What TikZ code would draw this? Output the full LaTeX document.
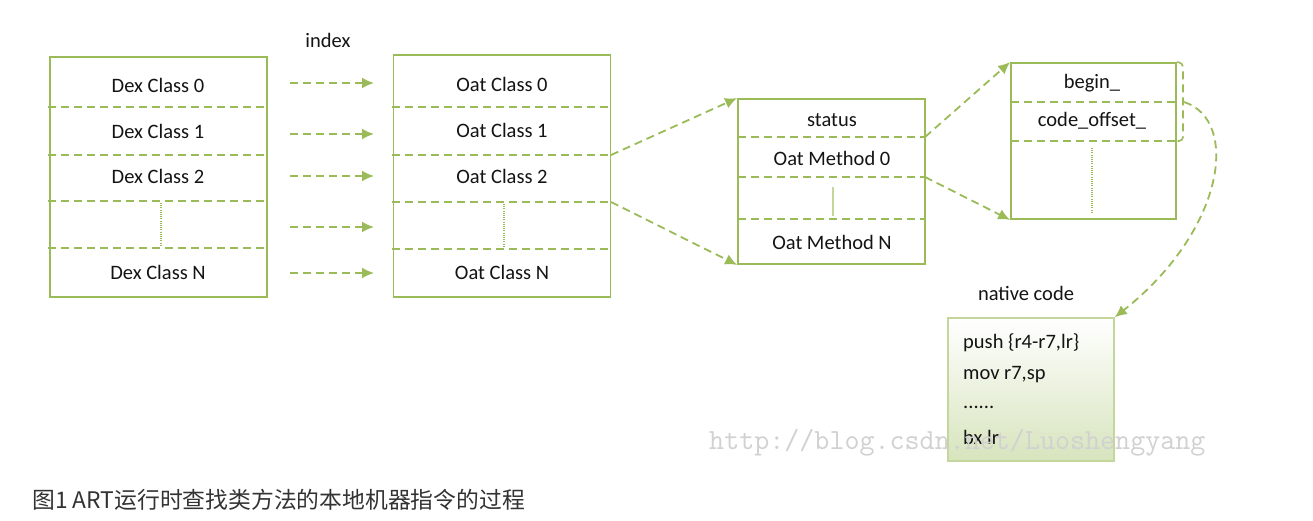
\documentclass[tikz,border=0pt]{standalone}
\usepackage{fontspec}
\setmainfont{Carlito}
\newfontfamily\cjk{Noto Sans CJK SC}
\usetikzlibrary{arrows.meta}
\definecolor{lgreen}{HTML}{9BBB59}
\definecolor{pgreen}{HTML}{C3D69B}
\definecolor{ngreen}{HTML}{D7E4BD}
\definecolor{captc}{HTML}{333333}
\definecolor{txt}{HTML}{141414}
\tikzset{
 box/.style={draw=lgreen, line width=1.8pt, inner sep=0pt, rectangle},
 lbl/.style={inner sep=0pt, font=\fontsize{20.5}{24}\selectfont, text=txt},
 sep/.style={draw=lgreen, line width=1.6pt, dash pattern=on 8pt off 5pt},
 arr/.style={draw=lgreen, line width=1.8pt, dash pattern=on 8pt off 5pt, -{Latex[length=12pt,width=11pt]}},
 dots/.style={draw=lgreen, line width=1.2pt, dash pattern=on 1pt off 1.2pt}
}
\begin{document}
\begin{tikzpicture}[x=1pt,y=-1pt]
\useasboundingbox[fill=white] (0,0) rectangle (1313,521);
% Dex box
\node[box, minimum width=217, minimum height=240] (dex) at (158.5,177) {};
\draw[sep] (48,107) -- (267,107);
\draw[sep] (48,155) -- (267,155);
\draw[sep] (48,201) -- (267,201);
\draw[sep] (48,248) -- (267,248);
\draw[dots] (161,203) -- (161,247);
\node[lbl] (d0) at (158,85) {Dex Class 0};
\node[lbl] (d1) at (158,131) {Dex Class 1};
\node[lbl] (d2) at (158,176) {Dex Class 2};
\node[lbl] (dn) at (158,272) {Dex Class N};
% index arrows
\node[lbl] (idx) at (328,40) {index};
\foreach \n/\y in {a/83,b/134,c/176,d/227,e/273}{
  \coordinate (s\n) at (290,\y);
  \coordinate (t\n) at (374,\y);
  \draw[arr] (s\n) -- (t\n);
}
% Oat box
\node[box, minimum width=217, minimum height=242] (oat) at (502,176) {};
\draw[sep] (392,107) -- (611,107);
\draw[sep] (392,155) -- (611,155);
\draw[sep] (392,202) -- (611,202);
\draw[sep] (392,249) -- (611,249);
\draw[dots] (504,204) -- (504,248);
\node[lbl] (o0) at (502,84) {Oat Class 0};
\node[lbl] (o1) at (502,130) {Oat Class 1};
\node[lbl] (o2) at (502,176) {Oat Class 2};
\node[lbl] (on) at (502,272) {Oat Class N};
% Method box
\node[box, minimum width=187, minimum height=165] (mth) at (831.5,181.5) {};
\draw[sep] (738,137) -- (925,137);
\draw[sep] (738,177) -- (925,177);
\draw[sep] (738,219) -- (925,219);
\draw[draw=pgreen, line width=1.5pt] (833,187) -- (833,216);
\node[lbl] (st) at (832,120) {status};
\node[lbl] (m0) at (832,158) {Oat Method 0};
\node[lbl] (mn) at (832,242) {Oat Method N};
\coordinate (oa) at (611,155);
\coordinate (ob) at (611,202);
\draw[arr] (oa) -- (mth.north west);
\draw[arr] (ob) -- (mth.south west);
% Right box
\node[box, minimum width=165, minimum height=156] (rb) at (1093.5,141) {};
\draw[sep] (1011,102) -- (1176,102);
\draw[sep] (1011,141) -- (1176,141);
\draw[dots] (1092,148) -- (1092,212);
\node[lbl] (bg) at (1092,83) {begin\_};
\node[lbl] (co) at (1092,121) {code\_offset\_};
\coordinate (ma) at (925,137);
\coordinate (mb) at (925,177);
\draw[arr] (ma) -- (rb.north west);
\draw[arr] (mb) -- (rb.south west);
% bracket
\draw[sep, rounded corners=4pt] (rb.north east) -- (1183,63) -- (1183,141) -- (1176,141);
\coordinate (br) at (1184,102);
% native code box
\node[draw=pgreen, line width=1.5pt, inner sep=0pt, minimum width=166, minimum height=143,
      top color=white, bottom color=ngreen] (nat) at (1031,389.5) {};
\node[lbl] (nc) at (1026,293) {native code};
\node[lbl, anchor=west] (c1) at (963,343) {push \{r4-r7,lr\}};
\node[lbl, anchor=west] (c2) at (963,375) {mov r7,sp};
\node[lbl, anchor=west] (c3) at (963,407) {......};
\node[lbl, anchor=west] (c4) at (963,437) {bx lr};
\draw[arr] (br) .. controls (1240,120) and (1225,230) .. (nat.north east);
% watermark (overlay)
\node[inner sep=0pt, font=\ttfamily\fontsize{29.2}{30}\selectfont, text=black!18, anchor=west] (wm) at (709,443) {http://blog.csdn.net/Luoshengyang};
% caption
\node[inner sep=0pt, font=\cjk\fontsize{22.8}{26}\selectfont, text=captc, anchor=west] (cap) at (32,500) {图1 ART运行时查找类方法的本地机器指令的过程};
\end{tikzpicture}
\end{document}
